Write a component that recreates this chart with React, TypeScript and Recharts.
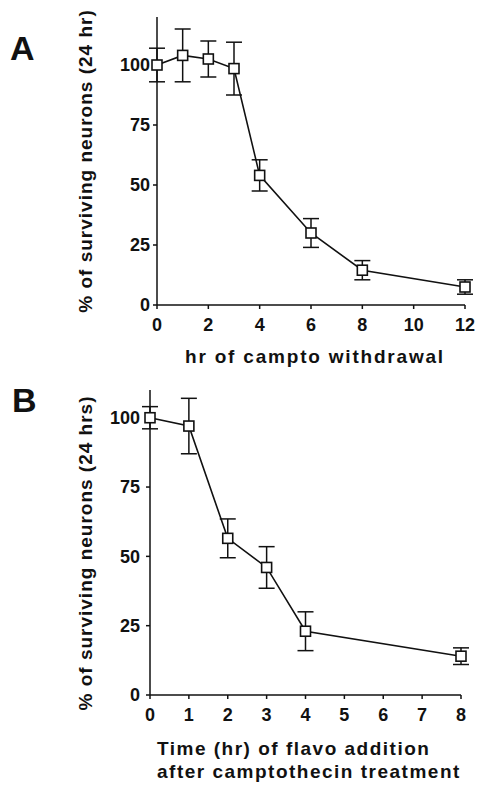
import React from 'react';
import { ComposedChart, Line, XAxis, YAxis, ErrorBar } from 'recharts';

// panel A: campto withdrawal
const hoursA = [0, 1, 2, 3, 4, 6, 8, 12];
const survivalA = [100, 104, 102.5, 98.5, 54, 30, 14.5, 7.5];
const errorA = [7, 11, 7.5, 11, 6.5, 6, 4, 3];
const xTicksA = [0, 2, 4, 6, 8, 10, 12];

// panel B: flavo addition
const hoursB = [0, 1, 2, 3, 4, 8];
const survivalB = [100, 97, 56.5, 46, 23, 14];
const errorB = [4, 10, 7, 7.5, 7, 3];
const xTicksB = [0, 1, 2, 3, 4, 5, 6, 7, 8];

const yTicks = [0, 25, 50, 75, 100];

const FONT = '"Liberation Sans", Arial, sans-serif';
const INK = '#111';

const dataA = hoursA.map((h, i) => ({ h, v: survivalA[i], e: errorA[i] }));
const dataB = hoursB.map((h, i) => ({ h, v: survivalB[i], e: errorB[i] }));

const tickStyle = { fontFamily: FONT, fontSize: 18, fontWeight: 'bold', fill: INK };

const SquareDot = (props: any) => {
  const { cx, cy, index } = props;
  if (cx == null || cy == null) return null;
  return (
    <rect
      key={`sq-${index}`}
      x={cx - 5}
      y={cy - 5}
      width={10}
      height={10}
      fill="#fff"
      stroke={INK}
      strokeWidth={1.6}
    />
  );
};

const textProps = {
  fontFamily: FONT,
  fontWeight: 'bold' as const,
  fill: INK,
};

const titlesA = () => (
  <g>
    <text x={10} y={60} fontSize={34} {...textProps}>A</text>
    <text
      x={92}
      y={161}
      fontSize={19}
      letterSpacing={1}
      textAnchor="middle"
      transform="rotate(-90 92 161)"
      {...textProps}
    >
      % of surviving neurons (24 hr)
    </text>
    <text x={315} y={363} fontSize={19} letterSpacing={1.8} textAnchor="middle" {...textProps}>
      hr of campto withdrawal
    </text>
  </g>
);

// chart B starts at y=370 on the page
const titlesB = () => (
  <g>
    <text x={12} y={42} fontSize={34} {...textProps}>B</text>
    <text
      x={92}
      y={183}
      fontSize={19}
      letterSpacing={1}
      textAnchor="middle"
      transform="rotate(-90 92 183)"
      {...textProps}
    >
      % of surviving neurons (24 hrs)
    </text>
    <text x={157} y={385} fontSize={19} letterSpacing={1.5} {...textProps}>
      Time (hr) of flavo addition
    </text>
    <text x={157} y={408} fontSize={19} letterSpacing={1.5} {...textProps}>
      after camptothecin treatment
    </text>
  </g>
);

const App: React.FC = () => {
  return (
    <div style={{ position: 'absolute', top: 0, left: 0, width: 479, height: 787, background: '#fff' }}>
      <ComposedChart width={479} height={370} data={dataA} margin={{ top: 17, right: 14, left: 0, bottom: 0 }}>
        <XAxis
          dataKey="h"
          type="number"
          domain={[0, 12]}
          ticks={xTicksA}
          height={65}
          tick={tickStyle}
          tickSize={4}
          tickMargin={9}
          stroke={INK}
          strokeWidth={1.5}
        />
        <YAxis
          type="number"
          domain={[0, 120]}
          ticks={yTicks}
          width={157}
          tick={tickStyle}
          tickSize={4}
          tickMargin={3}
          stroke={INK}
          strokeWidth={1.5}
          label={{ content: titlesA }}
        />
        <Line
          dataKey="v"
          stroke={INK}
          strokeWidth={1.6}
          dot={<SquareDot />}
          isAnimationActive={false}
        >
          <ErrorBar dataKey="e" width={8} stroke={INK} strokeWidth={1.5} direction="y" />
        </Line>
      </ComposedChart>
      <ComposedChart width={479} height={417} data={dataB} margin={{ top: 20, right: 18, left: 0, bottom: 0 }}>
        <XAxis
          dataKey="h"
          type="number"
          domain={[0, 8]}
          ticks={xTicksB}
          height={92}
          tick={tickStyle}
          tickSize={4}
          tickMargin={9}
          stroke={INK}
          strokeWidth={1.5}
        />
        <YAxis
          type="number"
          domain={[0, 110]}
          ticks={yTicks}
          width={150}
          tick={tickStyle}
          tickSize={4}
          tickMargin={6}
          stroke={INK}
          strokeWidth={1.5}
          label={{ content: titlesB }}
        />
        <Line
          dataKey="v"
          stroke={INK}
          strokeWidth={1.6}
          dot={<SquareDot />}
          isAnimationActive={false}
        >
          <ErrorBar dataKey="e" width={8} stroke={INK} strokeWidth={1.5} direction="y" />
        </Line>
      </ComposedChart>
    </div>
  );
};

export default App;
